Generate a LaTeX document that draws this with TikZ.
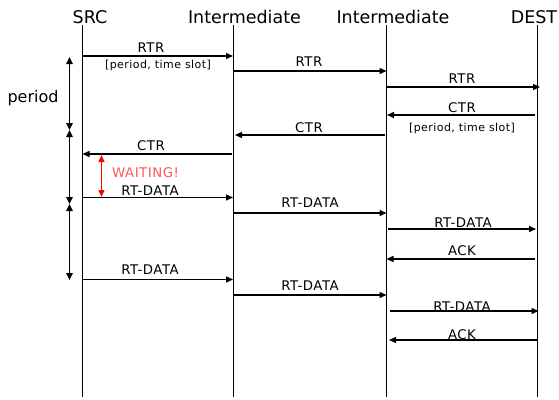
\documentclass[tikz,border=0pt]{standalone}
\usepackage{fontspec}
\setmainfont{DejaVu Sans}
\newfontfamily\hdrfont{DejaVu Sans}
\newfontfamily\labfont[LetterSpace=4]{DejaVu Sans}
\usetikzlibrary{arrows.meta}
\definecolor{waitred}{RGB}{255,85,85}
\begin{document}
\begin{tikzpicture}[x=1pt,y=-1pt,
  life/.style={line width=0.8pt},
  msg/.style={line width=1.4pt,-{Triangle[length=7pt,width=6pt]}},
  dbl/.style={line width=1.4pt,{Triangle[length=7pt,width=6.5pt]}-{Triangle[length=7pt,width=6.5pt]}},
  hdr/.style={font=\hdrfont\fontsize{17.5}{21}\selectfont, anchor=base, inner sep=0},
  lab/.style={font=\labfont\fontsize{13.3}{15}\selectfont, anchor=base, inner sep=0},
  small/.style={font=\labfont\fontsize{11}{13}\selectfont, anchor=base, inner sep=0}]
\useasboundingbox (0,0) rectangle (559,399);

% headers
\node[hdr] (hsrc) at (90,23) {SRC};
\node[hdr] (hi1) at (244.5,23) {Intermediate};
\node[hdr] (hi2) at (393,23) {Intermediate};
\node[hdr] (hdst) at (534,23) {DEST};

% lifelines
\coordinate (sT) at (82.5,25);  \coordinate (sB) at (82.5,397);
\coordinate (aT) at (233,25);   \coordinate (aB) at (233,397);
\coordinate (bT) at (386.5,25); \coordinate (bB) at (386.5,397);
\coordinate (dT) at (537.5,25); \coordinate (dB) at (537.5,397);
\draw[life] (sT) -- (sB);
\draw[life] (aT) -- (aB);
\draw[life] (bT) -- (bB);
\draw[life] (dT) -- (dB);

% messages
\coordinate (m1a) at (82.5,56);  \coordinate (m1b) at (233,56);
\coordinate (m2a) at (233,71);   \coordinate (m2b) at (386.5,71);
\coordinate (m3a) at (386.5,87); \coordinate (m3b) at (540,87);
\coordinate (m4a) at (535,115);  \coordinate (m4b) at (387,115);
\coordinate (m5a) at (385,135);  \coordinate (m5b) at (235,135);
\coordinate (m6a) at (232,154);  \coordinate (m6b) at (82.5,154);
\coordinate (m7a) at (82.5,197.5); \coordinate (m7b) at (233,197.5);
\coordinate (m8a) at (233,213);  \coordinate (m8b) at (386.5,213);
\coordinate (m9a) at (388,229);  \coordinate (m9b) at (536,229);
\coordinate (m10a) at (535,259); \coordinate (m10b) at (386.5,259);
\coordinate (m11a) at (82.5,279.5); \coordinate (m11b) at (233,279.5);
\coordinate (m12a) at (233,295); \coordinate (m12b) at (386.5,295);
\coordinate (m13a) at (390,311); \coordinate (m13b) at (538.5,311);
\coordinate (m14a) at (537,340); \coordinate (m14b) at (389,340);

\draw[msg] (m1a) -- (m1b);
\draw[msg] (m2a) -- (m2b);
\draw[msg] (m3a) -- (m3b);
\draw[msg] (m4a) -- (m4b);
\draw[msg] (m5a) -- (m5b);
\draw[msg] (m6a) -- (m6b);
\draw[msg] (m7a) -- (m7b);
\draw[msg] (m8a) -- (m8b);
\draw[msg] (m9a) -- (m9b);
\draw[msg] (m10a) -- (m10b);
\draw[msg] (m11a) -- (m11b);
\draw[msg] (m12a) -- (m12b);
\draw[msg] (m13a) -- (m13b);
\draw[msg] (m14a) -- (m14b);

% labels
\node[lab] (l1) at (151,52) {RTR};
\node[small] (l1s) at (158,68) {[period, time slot]};
\node[lab] (l2) at (309,66) {RTR};
\node[lab] (l3) at (462,83) {RTR};
\node[lab] (l4) at (462,112) {CTR};
\node[small] (l4s) at (462,131) {[period, time slot]};
\node[lab] (l5) at (309,132) {CTR};
\node[lab] (l6) at (151,150) {CTR};
\node[lab] (l7) at (150,195) {RT-DATA};
\node[lab] (l8) at (310,207) {RT-DATA};
\node[lab] (l9) at (463,227) {RT-DATA};
\node[lab] (l10) at (462,255) {ACK};
\node[lab] (l11) at (150,274) {RT-DATA};
\node[lab] (l12) at (310,290) {RT-DATA};
\node[lab] (l13) at (462,311) {RT-DATA};
\node[lab] (l14) at (462,339) {ACK};

% period arrows
\coordinate (p0) at (69.5,57);
\coordinate (p1) at (69.5,130);
\coordinate (p2) at (69.5,204);
\coordinate (p3) at (69.5,280);
\draw[dbl] (p0) -- (p1);
\draw[dbl] (p1) -- (p2);
\draw[dbl] (p2) -- (p3);
\node[font=\fontsize{16}{19}\selectfont, anchor=base, inner sep=0] (per) at (33,102) {period};

% waiting
\coordinate (w0) at (101.5,155);
\coordinate (w1) at (101.5,197);
\draw[red, line width=1.4pt, {Triangle[length=7pt,width=6pt]}-{Triangle[length=7pt,width=6pt]}] (w0) -- (w1);
\node[lab, anchor=base west, text=waitred] (wait) at (112,177) {WAITING!};
\end{tikzpicture}
\end{document}
